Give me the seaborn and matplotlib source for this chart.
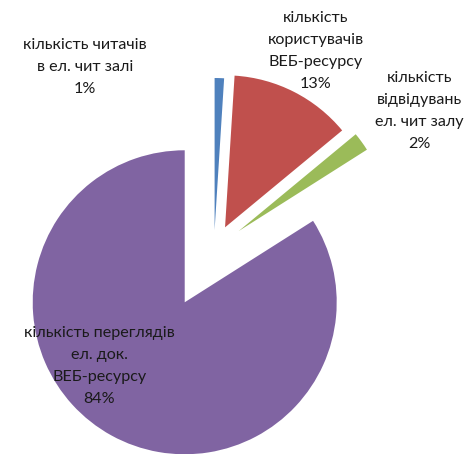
import matplotlib
matplotlib.use('Agg')
import matplotlib.pyplot as plt
import seaborn as sns

sns.set_theme(style='white')
plt.rcParams['font.family'] = ['Lato', 'DejaVu Sans']

# data
labels = ['кількість читачів\nв ел. чит залі',
          'кількість\nкористувачів\nВЕБ-ресурсу',
          'кількість\nвідвідувань\nел. чит залу',
          'кількість переглядів\nел. док.\nВЕБ-ресурсу']
shares = [1, 13, 2, 84]
colors = ['#4F81BD', '#C0504D', '#9BBB59', '#8064A2']
explode = [0.125, 0.16, 0.2, 0.4]

# label positions (axes fraction)
label_xy = [(0.178, 0.852), (0.662, 0.888), (0.88, 0.756), (0.208, 0.194)]

W, H = 477, 454
cx, cy, r = 214, 249, 152

fig = plt.figure(figsize=(W / 100, H / 100), dpi=100)
ax = fig.add_axes([0, 0, 1, 1])
ax.pie(shares, colors=colors, explode=explode, startangle=90,
       counterclock=False, radius=1, wedgeprops=dict(linewidth=0))
ax.set_aspect('auto')
ax.set_xlim(-cx / r, (W - cx) / r)
ax.set_ylim(-(H - cy) / r, cy / r)
ax.axis('off')

for lab, s, (x, y) in zip(labels, shares, label_xy):
    ax.text(x, y, f'{lab}\n{s}%', transform=ax.transAxes, ha='center',
            va='center', fontsize=11.6, color='#1a1a1a', linespacing=1.72)

fig.savefig('out.png', dpi=100)
